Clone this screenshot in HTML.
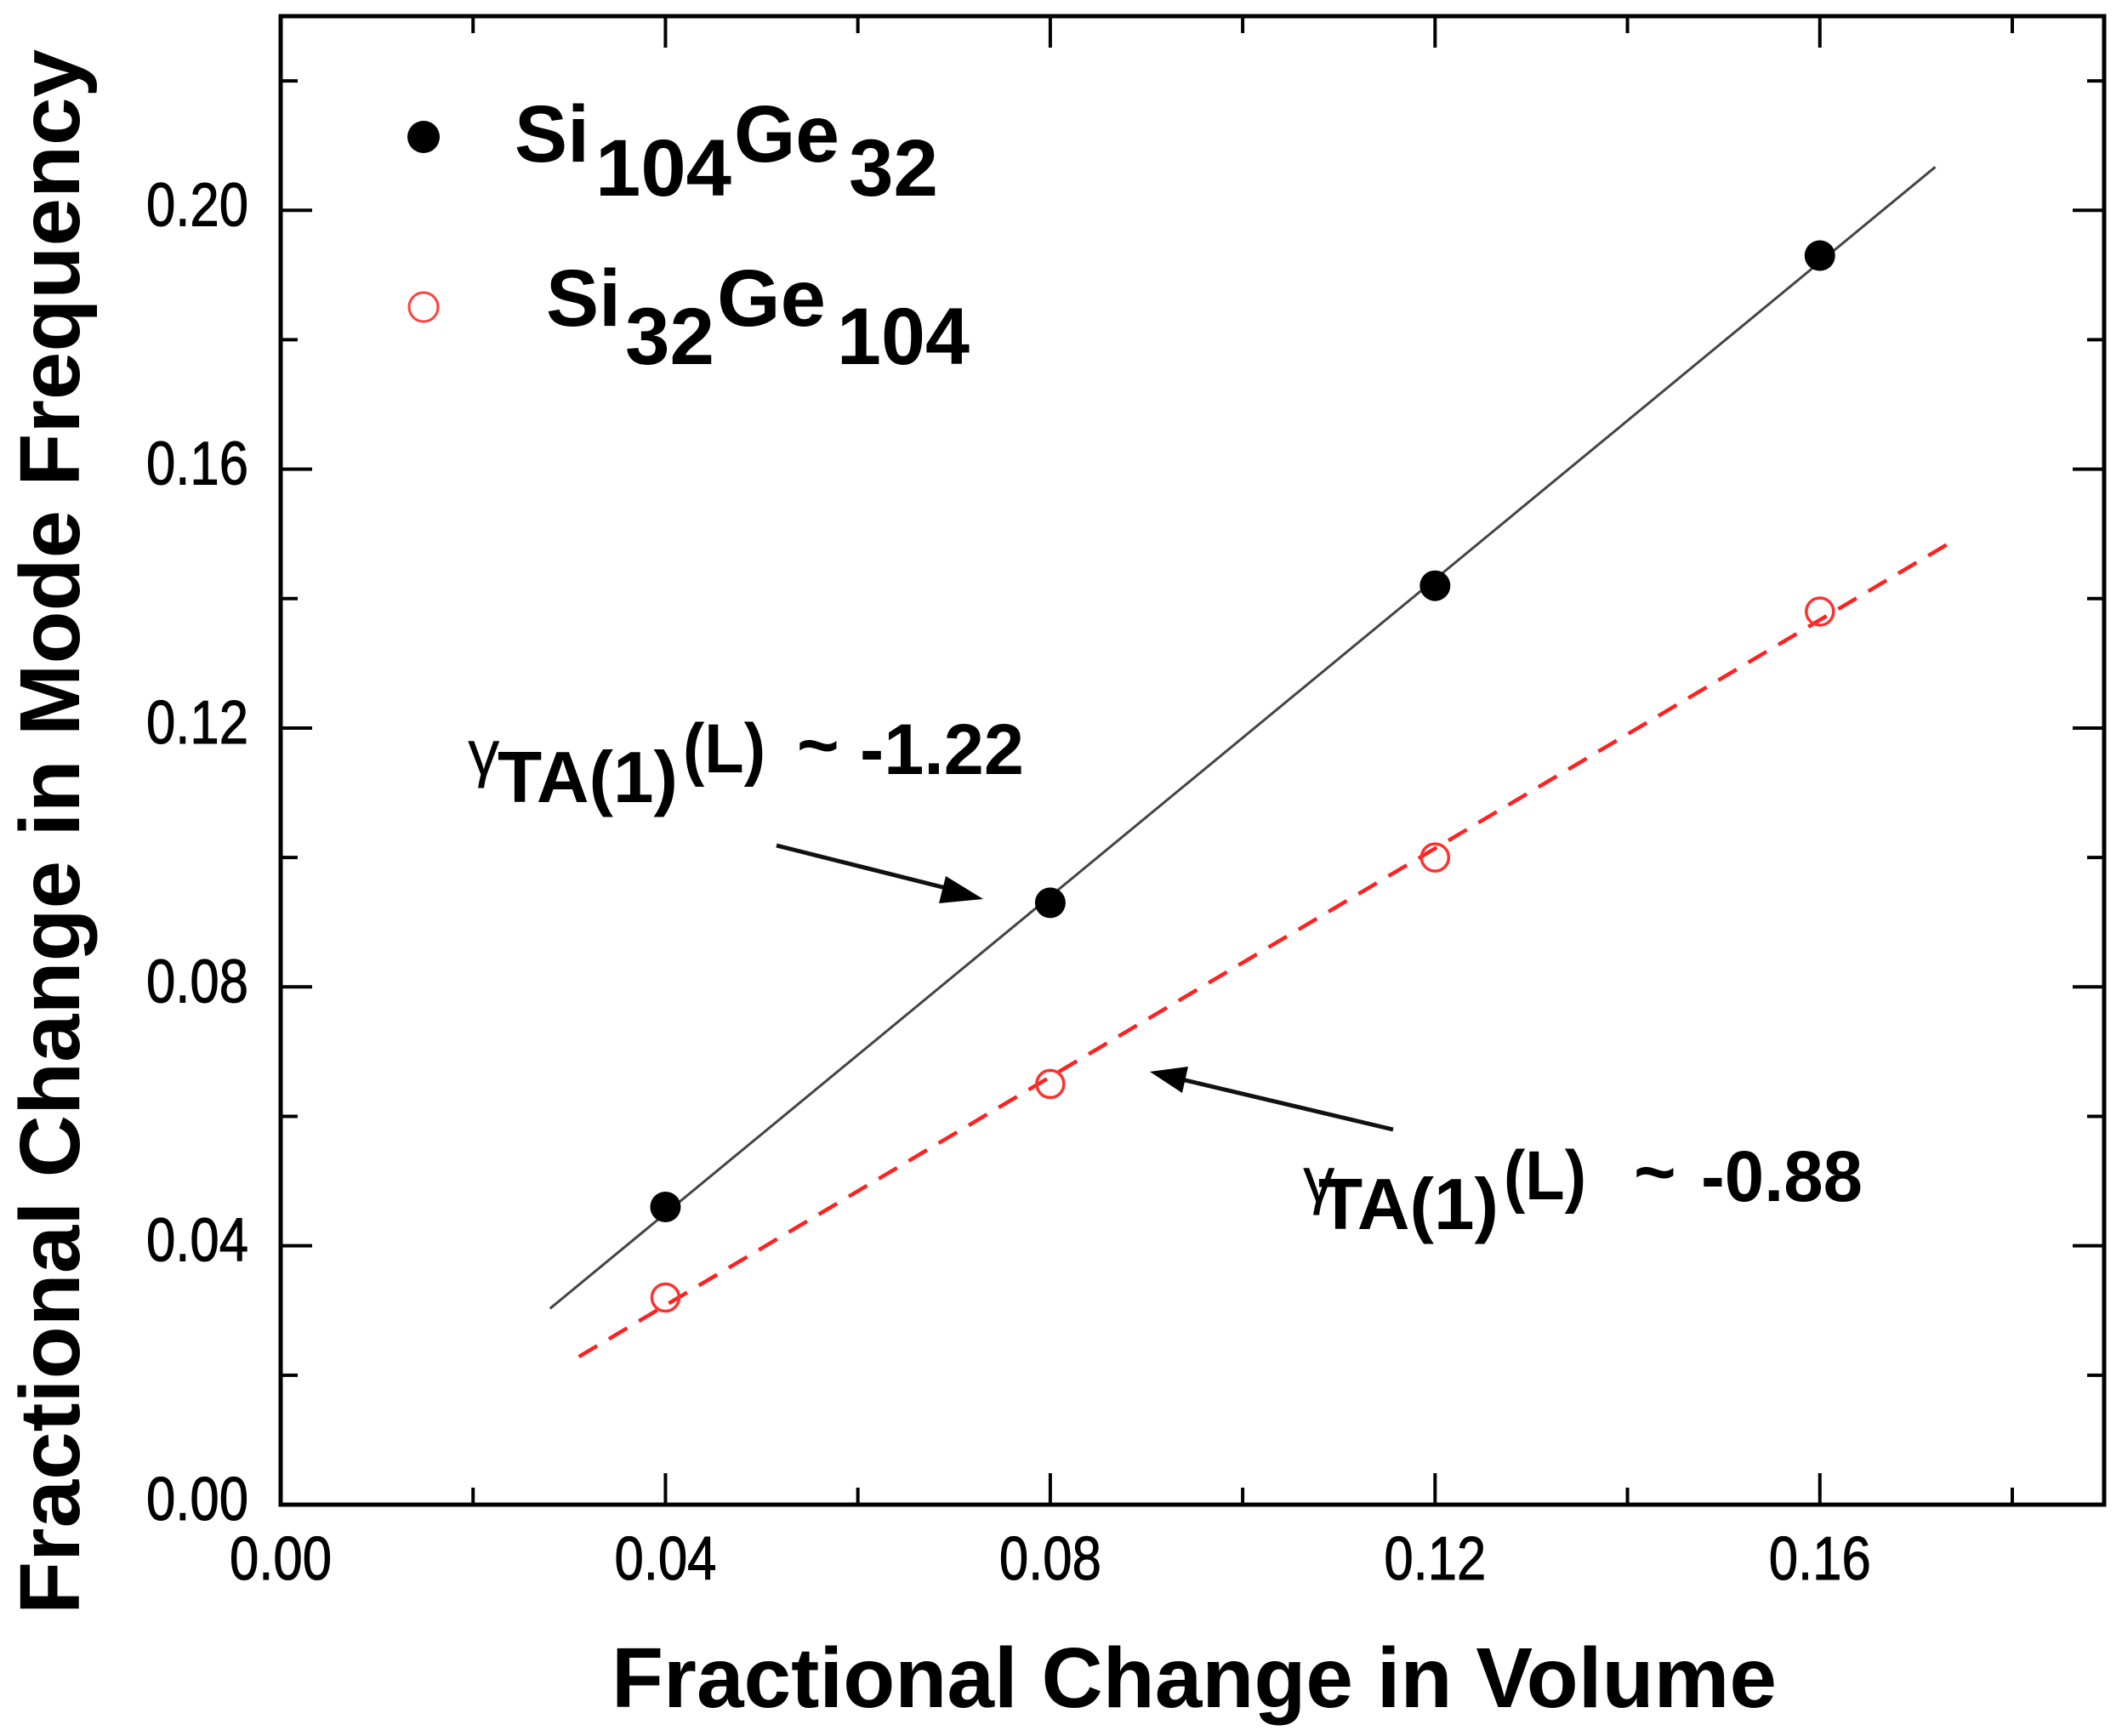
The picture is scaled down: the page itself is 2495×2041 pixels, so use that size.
<!DOCTYPE html>
<html><head><meta charset="utf-8"><style>
html,body{margin:0;padding:0;background:#fff;}
svg{display:block;}
text{font-family:"Liberation Sans",Arial,sans-serif;}
</style></head>
<body>
<svg id="chart" width="2495" height="2041" viewBox="0 0 2495 2041" xmlns="http://www.w3.org/2000/svg">
<g id="grid-layer"></g>
</svg>
<script>
const xTicks = [0.00, 0.04, 0.08, 0.12, 0.16];
const xTickLabels = ["0.00", "0.04", "0.08", "0.12", "0.16"];
const yTicks = [0.00, 0.04, 0.08, 0.12, 0.16, 0.20];
const yTickLabels = ["0.00", "0.04", "0.08", "0.12", "0.16", "0.20"];
const siGeX = [0.04, 0.08, 0.12, 0.16];
const siGeY = [0.046, 0.093, 0.142, 0.193];
const geSiX = [0.04, 0.08, 0.12, 0.16];
const geSiY = [0.032, 0.065, 0.100, 0.138];
const siGeFitRange = [0.028, 0.172];
const geSiFitRange = [0.031, 0.1735];

const L = 330, R = 2474, T = 19, B = 1769;
const X0 = 0, X1 = 0.18955, Y0 = 0, Y1 = 0.23;
function sx(v){ return L + (v - X0) / (X1 - X0) * (R - L); }
function sy(v){ return B - (v - Y0) / (Y1 - Y0) * (B - T); }

const NS = "http://www.w3.org/2000/svg";
const svg = document.getElementById("chart");
function mk(tag, attrs, parent){
  const e = document.createElementNS(NS, tag);
  for (const k in attrs) e.setAttribute(k, attrs[k]);
  (parent || svg).appendChild(e);
  return e;
}
function fit(xs, ys){
  const n = xs.length; let mx = 0, my = 0;
  for (let i=0;i<n;i++){ mx += xs[i]; my += ys[i]; }
  mx/=n; my/=n; let sxy=0, sxx=0;
  for (let i=0;i<n;i++){ sxy += (xs[i]-mx)*(ys[i]-my); sxx += (xs[i]-mx)**2; }
  const m = sxy/sxx; return [m, my - m*mx];
}

const f1 = fit(siGeX, siGeY);
const l1 = mk("line", {x1: sx(siGeFitRange[0]), y1: sy(f1[0]*siGeFitRange[0]+f1[1]), x2: sx(siGeFitRange[1]), y2: sy(f1[0]*siGeFitRange[1]+f1[1]), stroke:"#444", "stroke-width":3});


const f2 = fit(geSiX, geSiY);
const l2 = mk("line", {x1: sx(geSiFitRange[0]), y1: sy(f2[0]*geSiFitRange[0]+f2[1]), x2: sx(geSiFitRange[1]), y2: sy(f2[0]*geSiFitRange[1]+f2[1]), stroke:"#ff2020", "stroke-width":4.5, "stroke-dasharray":"25 16"});



for (let i=0;i<siGeX.length;i++){
  const c = mk("circle", {cx: sx(siGeX[i]), cy: sy(siGeY[i]), r: 18, fill:"#000"});
  
  
}
for (let i=0;i<geSiX.length;i++){
  const c = mk("circle", {cx: sx(geSiX[i]), cy: sy(geSiY[i]), r: 16, fill:"none", stroke:"#ff3030", "stroke-width":3.5});
  
  
}

const fr = mk("rect", {x:L, y:T, width:R-L, height:B-T, fill:"none", stroke:"#000", "stroke-width":5});



for (let i=0;i<xTicks.length;i++){
  const x = sx(xTicks[i]);
  const t = mk("line", {x1:x, y1:B, x2:x, y2:B-37, stroke:"#000", "stroke-width":4});
  
  
  const t2 = mk("line", {x1:x, y1:T, x2:x, y2:T+37, stroke:"#000", "stroke-width":4});
  
  
  const lb = mk("text", {x:x, y:1857, "text-anchor":"middle", "font-size":72, textLength:120, lengthAdjust:"spacingAndGlyphs", fill:"#000", stroke:"#000", "stroke-width":1});
  lb.textContent = xTickLabels[i];
  
  
}
for (let v=0.02; v<X1; v+=0.04){
  const x = sx(v);
  const t = mk("line", {x1:x, y1:B, x2:x, y2:B-20, stroke:"#000", "stroke-width":4});
  
  
  const t2 = mk("line", {x1:x, y1:T, x2:x, y2:T+20, stroke:"#000", "stroke-width":4});
  
  
}
for (let i=0;i<yTicks.length;i++){
  const y = sy(yTicks[i]);
  const t = mk("line", {x1:L, y1:y, x2:L+37, y2:y, stroke:"#000", "stroke-width":4});
  
  
  const t2 = mk("line", {x1:R, y1:y, x2:R-37, y2:y, stroke:"#000", "stroke-width":4});
  
  
  const lb = mk("text", {x:292, y:y+18, "text-anchor":"end", "font-size":72, textLength:120, lengthAdjust:"spacingAndGlyphs", fill:"#000", stroke:"#000", "stroke-width":1});
  lb.textContent = yTickLabels[i];
  
  
}
for (let v=0.02; v<Y1; v+=0.04){
  const y = sy(v);
  const t = mk("line", {x1:L, y1:y, x2:L+20, y2:y, stroke:"#000", "stroke-width":4});
  
  
  const t2 = mk("line", {x1:R, y1:y, x2:R-20, y2:y, stroke:"#000", "stroke-width":4});
  
  
}
</script>
<svg width="2495" height="2041" viewBox="0 0 2495 2041" style="position:absolute;left:0;top:0;" xmlns="http://www.w3.org/2000/svg">
<text x="719" y="2007" font-size="100" font-weight="bold" textLength="1370" lengthAdjust="spacingAndGlyphs">Fractional Change in Volume</text>
<text transform="translate(93,1898) rotate(-90)" x="0" y="0" font-size="100" font-weight="bold" textLength="1840" lengthAdjust="spacingAndGlyphs">Fractional Change in Mode Frequency</text>

<g>
<g>
<circle cx="498" cy="161" r="19" fill="#000"/>
<text font-size="95" font-weight="bold"><tspan x="605" y="190" textLength="88" lengthAdjust="spacingAndGlyphs">Si</tspan><tspan x="700" y="230" textLength="160" lengthAdjust="spacingAndGlyphs">104</tspan><tspan x="863" y="190" textLength="124" lengthAdjust="spacingAndGlyphs">Ge</tspan><tspan x="998" y="230" textLength="105" lengthAdjust="spacingAndGlyphs">32</tspan></text>
</g>
<g>
<circle cx="498" cy="361" r="17" fill="none" stroke="#ff4040" stroke-width="3"/>
<text font-size="95" font-weight="bold"><tspan x="642" y="383" textLength="88" lengthAdjust="spacingAndGlyphs">Si</tspan><tspan x="735" y="428" textLength="105" lengthAdjust="spacingAndGlyphs">32</tspan><tspan x="843" y="383" textLength="128" lengthAdjust="spacingAndGlyphs">Ge</tspan><tspan x="984" y="428" textLength="156" lengthAdjust="spacingAndGlyphs">104</tspan></text>
</g>
</g>

<g font-weight="bold">
<text x="550" y="911" font-size="75" font-weight="normal">γ</text>
<text x="585" y="943" font-size="85" textLength="212" lengthAdjust="spacingAndGlyphs">TA(1)</text>
<text x="803" y="908" font-size="82" textLength="97" lengthAdjust="spacingAndGlyphs">(L)</text>
<text x="937" y="905" font-size="85">~</text>
<text x="1011" y="910" font-size="84" textLength="193" lengthAdjust="spacingAndGlyphs">-1.22</text>
</g>
<g>
<line x1="913" y1="994" x2="1120" y2="1046" stroke="#111" stroke-width="5"/>
<polygon points="1156,1057 1112,1030 1104,1062" fill="#000"/>
</g>

<g font-weight="bold">
<text x="1532" y="1413" font-size="75" font-weight="normal">γ</text>
<text x="1550" y="1445" font-size="85" textLength="212" lengthAdjust="spacingAndGlyphs">TA(1)</text>
<text x="1768" y="1410" font-size="82" textLength="97" lengthAdjust="spacingAndGlyphs">(L)</text>
<text x="1921" y="1407" font-size="85">~</text>
<text x="2000" y="1412" font-size="84" textLength="190" lengthAdjust="spacingAndGlyphs">-0.88</text>
</g>
<g>
<line x1="1638" y1="1328" x2="1385" y2="1268" stroke="#111" stroke-width="5"/>
<polygon points="1352,1260 1397,1254 1390,1285" fill="#000"/>
</g>
</svg>
</body></html>
